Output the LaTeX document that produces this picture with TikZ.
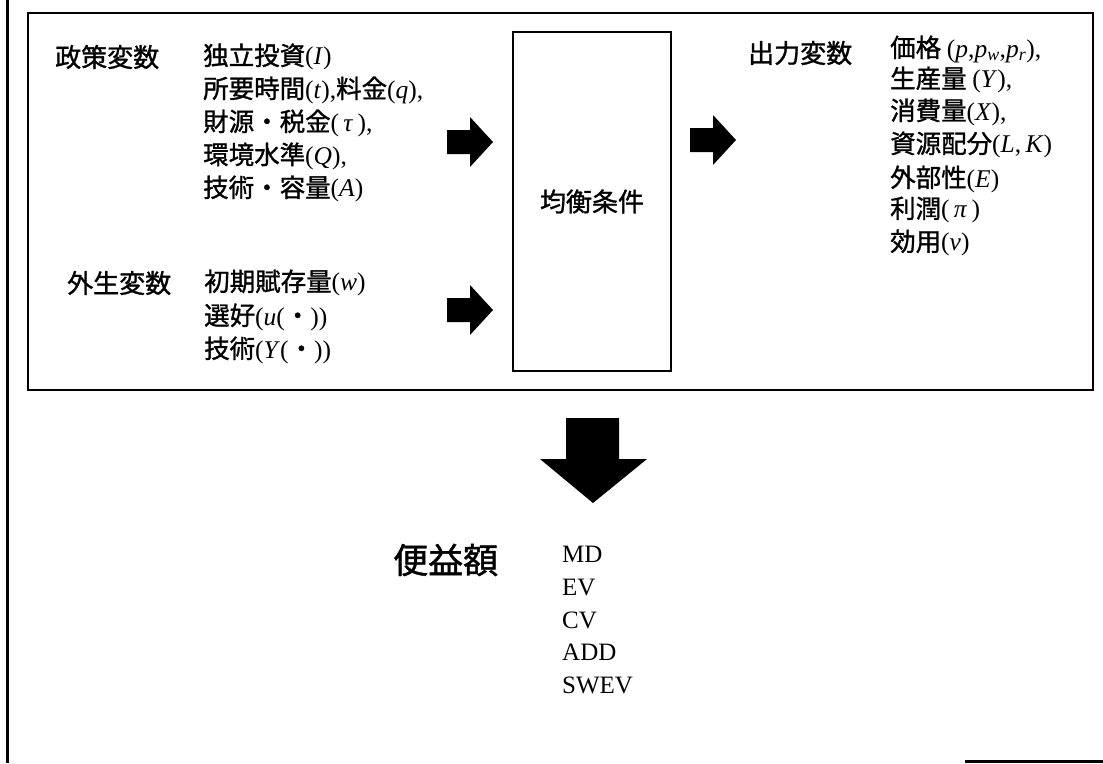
\documentclass[tikz,border=0pt]{standalone}
\usepackage{fontspec}
\setmainfont{Liberation Serif}
\newfontfamily\jp[FakeBold=1.2]{Noto Sans CJK JP}
\newcommand\lp[1]{{\rmfamily #1}}
\tikzset{
  frame/.style={draw, line width=1.3pt},
  head/.style={font=\jp\fontsize{26}{30}\selectfont, anchor=west, inner sep=0pt},
  item/.style={font=\jp\fontsize{25.5}{30}\selectfont, anchor=west, inner sep=0pt},
  latin/.style={font=\rmfamily\fontsize{25}{30}\selectfont, anchor=west, inner sep=0pt},
  blockarrow/.pic={\fill[black] (0,-12) -- (23,-12) -- (23,-25) -- (46,0) -- (23,25) -- (23,12) -- (0,12) -- cycle;},
}
\begin{document}
\begin{tikzpicture}[x=1pt,y=-1pt]
\useasboundingbox (0,0) rectangle (1103,763);
% scan border remnants
\draw[line width=3pt] (7,0) -- (7,763);
\draw[line width=3pt] (965,761) -- (1103,761);
% outer box
\node[frame, minimum width=1065pt, minimum height=377pt, inner sep=0pt] (outer) at (560.5,201.5) {};
% equilibrium box
\node[frame, minimum width=158pt, minimum height=339pt, inner sep=0pt,
      font=\jp\fontsize{26}{30}\selectfont] (eq) at (592,201.5) {均衡条件};
% headings
\node[head] (pol) at (55,57) {政策変数};
\node[head] (exo) at (67,283) {外生変数};
\node[head] (out) at (748,53) {出力変数};
% policy variables
\node[item] (pol1) at (203,57) {独立投資\lp{(\textit{I})}};
\node[item] (pol2) at (203,90) {所要時間\lp{(\textit{t}),}料金\lp{(\textit{q}),}};
\node[item] (pol3) at (203,123) {財源・税金\lp{(\,\textit{τ}\,),}};
\node[item] (pol4) at (203,156) {環境水準\lp{(\textit{Q}),}};
\node[item] (pol5) at (203,189) {技術・容量\lp{(\textit{A})}};
% exogenous variables
\node[item] (exo1) at (204,283) {初期賦存量\lp{(\textit{w})}};
\node[item] (exo2) at (204,317) {選好\lp{(\textit{u}(}・\lp{))}};
\node[item] (exo3) at (204,350) {技術\lp{(\textit{Y}(}・\lp{))}};
% output variables
\node[item] (out1) at (890,49) {価格 \lp{(\textit{p},\textit{p}\textsubscript{\textit{w}},\textit{p}\textsubscript{\textit{r}}),}};
\node[item] (out2) at (890,80) {生産量 \lp{(\textit{Y}),}};
\node[item] (out3) at (890,112) {消費量\lp{(\textit{X}),}};
\node[item] (out4) at (890,145) {資源配分\lp{(\textit{L},\,\textit{K})}};
\node[item] (out5) at (890,179) {外部性\lp{(\textit{E})}};
\node[item] (out6) at (890,210) {利潤\lp{(\,\textit{π}\,)}};
\node[item] (out7) at (890,243) {効用\lp{(\textit{v})}};
% block arrows
\pic at (447,142) {blockarrow};
\pic at (447,310) {blockarrow};
\pic at (690,140) {blockarrow};
\fill[black] (566,418) -- (619,418) -- (619,459) -- (647,459) -- (593,503) -- (540,459) -- (566,459) -- cycle;
% benefits
\node[head, font=\jp\fontsize{35}{40}\selectfont] (ben) at (393,560) {便益額};
\node[latin] (m1) at (562,554) {MD};
\node[latin] (m2) at (562,587) {EV};
\node[latin] (m3) at (562,620) {CV};
\node[latin] (m4) at (562,652) {ADD};
\node[latin] (m5) at (562,685) {SWEV};
\end{tikzpicture}
\end{document}
